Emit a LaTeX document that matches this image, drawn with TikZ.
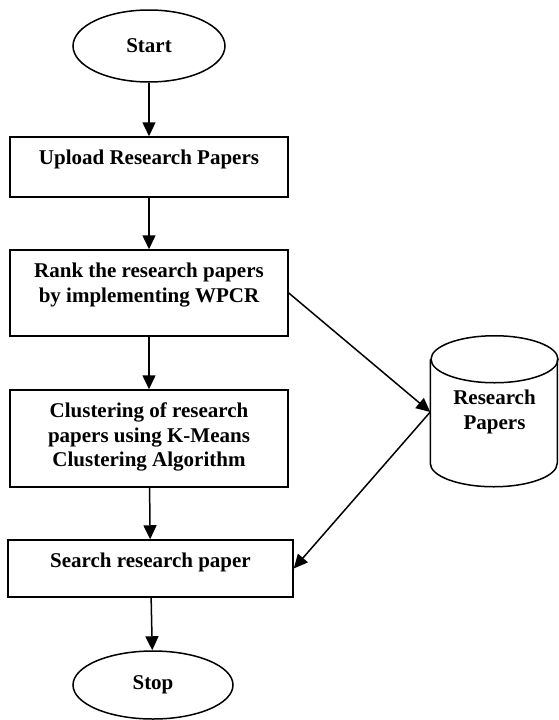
\documentclass[tikz,border=0pt]{standalone}
\usepackage{fontspec}
\setmainfont{Liberation Serif}
\usetikzlibrary{arrows.meta,positioning,shapes.geometric}

\begin{document}
\begin{tikzpicture}[x=1pt, y=-1pt, line width=1.5pt,
		font=\fontsize{21}{24.5}\selectfont\bfseries,
		>={Triangle[length=14pt, width=13pt]},
		terminal/.style={draw, ellipse, inner sep=0pt},
		stepbox/.style={draw, rectangle, inner sep=0pt},
		txt/.style={align=center, inner sep=0pt}]
		\useasboundingbox (0,0) rectangle (558,720);

		\node[terminal, minimum width=152pt, minimum height=72pt] (start) at (149,46) {Start};

		\node[stepbox, minimum width=278pt, minimum height=60pt] (up) at (149,167) {};
		\node[txt, below=13pt of up.north] (uptxt) {Upload Research Papers};

		\node[stepbox, minimum width=278pt, minimum height=86pt] (rank) at (149,293) {};
		\node[txt, below=13pt of rank.north] (ranktxt) {Rank the research papers\\by implementing WPCR};

		\node[stepbox, minimum width=278pt, minimum height=97pt] (clus) at (149,438.5) {};
		\node[txt, below=13pt of clus.north] (clustxt) {Clustering of research\\papers using K-Means\\Clustering Algorithm};

		\node[stepbox, minimum width=285pt, minimum height=57pt] (search) at (150.5,568.5) {};
		\node[txt, below=13pt of search.north] (searchtxt) {Search research paper};

		\node[terminal, minimum width=160pt, minimum height=68pt] (stop) at (153,685) {Stop};

		% database
		\node[txt, minimum width=127pt, minimum height=151pt] (db) at (494.5,412) {Research\\Papers};
		\draw (db.north west) ++(0,23.5) -- ++(0,104)
			arc[start angle=180, end angle=0, x radius=63.5, y radius=23.5] -- ++(0,-104);
		\draw (db.north) ++(0,23.5) ellipse[x radius=63.5, y radius=23.5];

		\draw[->] (start) -- (up);
		\draw[->] (up) -- (rank);
		\draw[->] (rank) -- (clus);
		\draw[->] (clus) -- (search);
		\draw[->] (search) -- (stop);

		\draw[->] (rank.east) -- (db.west);
		\draw[->] (db.west) -- (search.east);
	\end{tikzpicture}
\end{document}
